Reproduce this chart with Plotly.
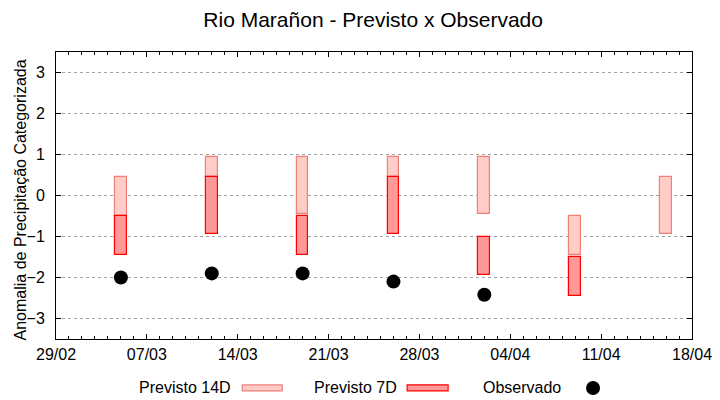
import plotly.graph_objects as go

# ---- data ----
dates = ["2016-03-05", "2016-03-12", "2016-03-19", "2016-03-26",
         "2016-04-02", "2016-04-09", "2016-04-16"]
p14_low = [-0.5, 0.45, -0.45, 0.45, -0.45, -1.45, -0.95]
p14_high = [0.45, 0.95, 0.95, 0.95, 0.95, -0.5, 0.45]
p7_low = [-1.45, -0.95, -1.45, -0.95, -1.95, -2.45, None]
p7_high = [-0.5, 0.45, -0.5, 0.45, -1.0, -1.5, None]
obs = [-2.0, -1.9, -1.9, -2.1, -2.42, None, None]
y_ticks = [-3, -2, -1, 0, 1, 2, 3]

DAY = 86400000
C14_FILL, C14_LINE = "#FFCCC8", "#F08078"
C7_FILL, C7_LINE = "#FF9999", "#FF0000"
FONT = "Liberation Sans, Arial, sans-serif"

def heights(lo, hi):
    return [None if (a is None or b is None) else b - a for a, b in zip(lo, hi)]

fig = go.Figure()
fig.add_trace(go.Bar(x=dates, y=heights(p14_low, p14_high), base=p14_low,
                     width=0.9 * DAY, name="Previsto 14D",
                     marker=dict(color=C14_FILL, line=dict(color=C14_LINE, width=1.2))))
fig.add_trace(go.Bar(x=dates, y=heights(p7_low, p7_high), base=p7_low,
                     width=0.9 * DAY, name="Previsto 7D",
                     marker=dict(color=C7_FILL, line=dict(color=C7_LINE, width=1.2))))
fig.add_trace(go.Scatter(x=dates, y=obs, mode="markers", name="Observado",
                         marker=dict(color="black", size=14, line=dict(width=0))))

# ---- custom gnuplot-style key (text, then sample) ----
L, R, T, B = 55.7, 692, 51.7, 339
def px(x): return (x - L) / (R - L)
def py(y): return (B - y) / (B - T)

annotations = []
shapes = []
for label, tx, sx0, sx1, fill, line in [
        ("Previsto 14D", 233, 242, 282, C14_FILL, C14_LINE),
        ("Previsto 7D", 399, 407, 448, C7_FILL, C7_LINE)]:
    annotations.append(dict(text=label, x=px(tx), y=py(387.5), xref="paper", yref="paper",
                            xanchor="right", yanchor="middle", showarrow=False,
                            font=dict(size=16, color="black", family=FONT)))
    shapes.append(dict(type="rect", xref="paper", yref="paper",
                       x0=px(sx0), x1=px(sx1), y0=py(391), y1=py(385),
                       fillcolor=fill, line=dict(color=line, width=1.2)))
annotations.append(dict(text="Observado", x=px(563), y=py(387.5), xref="paper", yref="paper",
                        xanchor="right", yanchor="middle", showarrow=False,
                        font=dict(size=16, color="black", family=FONT)))
shapes.append(dict(type="circle", xref="paper", yref="paper",
                   xsizemode="pixel", ysizemode="pixel",
                   xanchor=px(593), yanchor=py(388), x0=-7, x1=7, y0=-7, y1=7,
                   fillcolor="black", line=dict(width=0)))
# y-axis title
annotations.append(dict(text="Anomalia de Precipitação Categorizada", textangle=-90,
                        x=px(20), y=py(200), xref="paper", yref="paper",
                        xanchor="center", yanchor="middle", showarrow=False,
                        font=dict(size=16, color="black", family=FONT)))

fig.update_layout(
    width=720, height=400,
    margin=dict(l=55.7, r=28, t=51.7, b=61, pad=0),
    paper_bgcolor="white", plot_bgcolor="white",
    barmode="overlay", bargap=0, showlegend=False,
    font=dict(family=FONT, size=16, color="black"),
    title=dict(text="Rio Marañon - Previsto x Observado", x=px(373), xref="paper",
               xanchor="center", y=1 - 20 / 400, yanchor="middle", yref="container",
               font=dict(size=21, color="black", family=FONT)),
    annotations=annotations, shapes=shapes,
)
fig.update_xaxes(
    type="date", range=["2016-02-29", "2016-04-18"],
    tick0="2016-02-29", dtick=7 * DAY, tickformat="%d/%m",
    ticks="inside", ticklen=5, tickcolor="black", tickwidth=1,
    showline=True, linecolor="black", linewidth=1, mirror="allticks",
    showgrid=False, zeroline=False, ticklabelstandoff=1, automargin=False,
    minor=dict(dtick=DAY, tick0="2016-02-29", ticks="inside", ticklen=3,
               tickcolor="black", showgrid=False),
)
fig.update_yaxes(
    range=[-3.5, 3.5], tickvals=y_ticks,
    ticks="inside", ticklen=5, tickcolor="black", tickwidth=1,
    showline=True, linecolor="black", linewidth=1, mirror="allticks",
    showgrid=True, gridcolor="#A0A0A0", griddash="dot", gridwidth=1,
    zeroline=False, ticklabelstandoff=7, automargin=False,
)
fig.write_html("out.html", config={"displayModeBar": False},
               post_script="document.body.style.margin='0';document.body.style.padding='0';")
